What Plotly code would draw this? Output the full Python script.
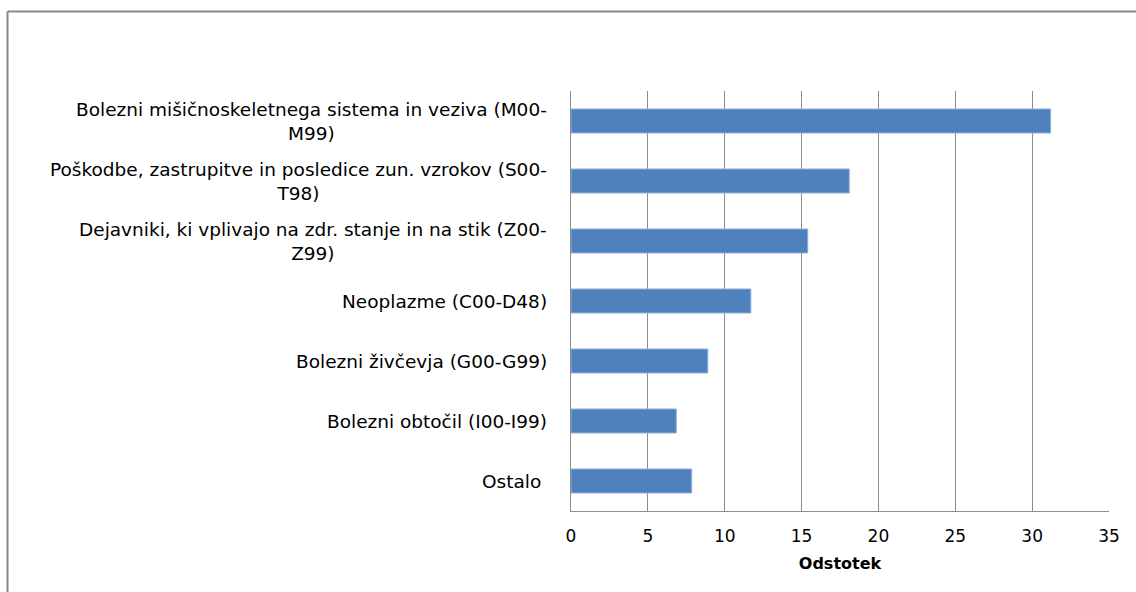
import plotly.graph_objects as go

categories = [
    "Bolezni mišičnoskeletnega sistema in veziva (M00-<br>M99)",
    "Poškodbe, zastrupitve in posledice zun. vzrokov (S00-<br>T98)",
    "Dejavniki, ki vplivajo na zdr. stanje in na stik (Z00-<br>Z99)",
    "Neoplazme (C00-D48)",
    "Bolezni živčevja (G00-G99)",
    "Bolezni obtočil (I00-I99)",
    "Ostalo ",
]
values = [31.2, 18.1, 15.4, 11.7, 8.9, 6.85, 7.85]
x_ticks = [0, 5, 10, 15, 20, 25, 30, 35]

FONT = "DejaVu Sans"
W, H = 1136, 592
L, R, T, B = 571, 27, 91, 81

fig = go.Figure()
fig.add_trace(go.Bar(
    y=list(range(len(categories))),
    x=values,
    orientation="h",
    width=0.4,
    marker=dict(color="#4F81BD", line=dict(color="#8EAEDB", width=1)),
    hoverinfo="skip",
))

for i, c in enumerate(categories):
    fig.add_annotation(
        x=0, xref="paper", y=i, yref="y",
        text=c, showarrow=False, xanchor="right", xshift=-22,
        align="center", font=dict(family=FONT, size=18.5, color="#000000"),
    )

pw = W - L - R
ph = H - T - B
def px2x(p):
    return (p - L) / pw
def py2y(p):
    return (H - B - p) / ph

# outer chart frame (left and top edges visible)
fig.add_shape(type="line", xref="paper", yref="paper",
              x0=px2x(7.5), x1=px2x(7.5), y0=py2y(11.5), y1=py2y(600),
              line=dict(color="#888888", width=2))
fig.add_shape(type="line", xref="paper", yref="paper",
              x0=px2x(7.5), x1=px2x(1140), y0=py2y(11.5), y1=py2y(11.5),
              line=dict(color="#888888", width=2))

fig.update_layout(
    width=W, height=H,
    margin=dict(l=L, r=R, t=T, b=B),
    paper_bgcolor="white", plot_bgcolor="white",
    showlegend=False,
    font=dict(family=FONT, size=17, color="#000000"),
    xaxis=dict(
        range=[0, 35], tickvals=x_ticks, ticktext=[str(v) for v in x_ticks],
        showgrid=True, gridcolor="#8C8C8C", gridwidth=1,
        showline=True, linecolor="#8C8C8C", linewidth=1,
        zeroline=False, ticks="", ticklen=0, ticklabelstandoff=10,
        tickfont=dict(family=FONT, size=17, color="#000000"),
        title=dict(text="<b>Odstotek</b>", standoff=12,
                   font=dict(family=FONT, size=16, color="#000000")),
    ),
    yaxis=dict(
        range=[len(categories) - 0.5, -0.5],
        showticklabels=False, showgrid=False,
        showline=True, linecolor="#8C8C8C", linewidth=1,
        zeroline=False, ticks="",
    ),
)

fig.write_html("out.html", config={"displayModeBar": False},
               post_script="document.body.style.margin='0';document.body.style.overflow='hidden';")
